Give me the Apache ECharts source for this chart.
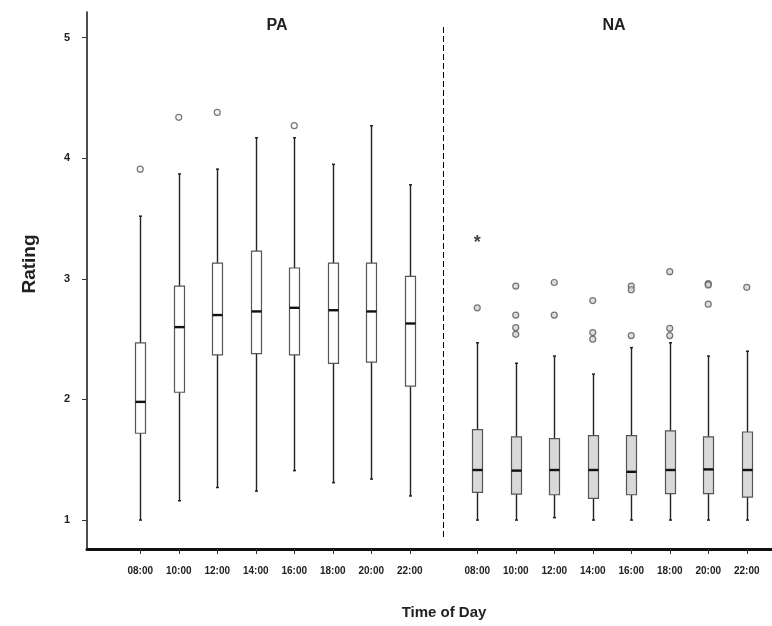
<!DOCTYPE html>
<html>
<head>
<meta charset="utf-8">
<script src="https://cdn.jsdelivr.net/npm/echarts@6/dist/echarts.min.js"></script>
<style>html,body{margin:0;padding:0;background:#fff}#c{width:772px;height:626px}</style>
</head>
<body>
<div id="c"></div>
<script>
// ---- Data ----
const categories = ['08:00','10:00','12:00','14:00','16:00','18:00','20:00','22:00'];
const yTicks = [1, 2, 3, 4, 5];

const paMin    = [1.00, 1.16, 1.27, 1.24, 1.41, 1.31, 1.34, 1.20];
const paQ1     = [1.72, 2.06, 2.37, 2.38, 2.37, 2.30, 2.31, 2.11];
const paMedian = [1.98, 2.60, 2.70, 2.73, 2.76, 2.74, 2.73, 2.63];
const paQ3     = [2.47, 2.94, 3.13, 3.23, 3.09, 3.13, 3.13, 3.02];
const paMax    = [3.52, 3.87, 3.91, 4.17, 4.17, 3.95, 4.27, 3.78];
const paOutliers = [[0, 3.91], [1, 4.34], [2, 4.38], [4, 4.27]];

const naMin    = [1.00, 1.00, 1.02, 1.00, 1.00, 1.00, 1.00, 1.00];
const naQ1     = [1.23, 1.215, 1.21, 1.18, 1.21, 1.22, 1.22, 1.19];
const naMedian = [1.415, 1.41, 1.415, 1.415, 1.40, 1.415, 1.42, 1.415];
const naQ3     = [1.75, 1.69, 1.675, 1.70, 1.70, 1.74, 1.69, 1.73];
const naMax    = [2.47, 2.30, 2.36, 2.21, 2.43, 2.47, 2.36, 2.40];
const naOutliers = [
  [0, 2.76],
  [1, 2.94], [1, 2.70], [1, 2.595], [1, 2.54],
  [2, 2.97], [2, 2.70],
  [3, 2.82], [3, 2.555], [3, 2.50],
  [4, 2.94], [4, 2.91], [4, 2.53],
  [5, 3.06], [5, 2.59], [5, 2.53],
  [6, 2.96], [6, 2.95], [6, 2.79],
  [7, 2.93]
];
const naExtremes = [[0, 3.33]];

// ---- Build ----
function boxData(mn, q1, md, q3, mx) {
  return mn.map((v, i) => [i, mn[i], q1[i], md[i], q3[i], mx[i]]);
}
function makeRender(fill) {
  return function (params, api) {
    const x = api.value(0);
    const pMin = api.coord([x, api.value(1)]);
    const pQ1 = api.coord([x, api.value(2)]);
    const pMed = api.coord([x, api.value(3)]);
    const pQ3 = api.coord([x, api.value(4)]);
    const pMax = api.coord([x, api.value(5)]);
    const cx = Math.round(pMed[0]) + 0.5;
    const hw = 5;
    const line = { stroke: '#222', lineWidth: 1.4 };
    return {
      type: 'group',
      children: [
        { type: 'line', shape: { x1: cx, y1: pMin[1], x2: cx, y2: pQ1[1] }, style: line },
        { type: 'line', shape: { x1: cx, y1: pQ3[1], x2: cx, y2: pMax[1] }, style: line },
        { type: 'line', shape: { x1: cx - 1.5, y1: pMin[1], x2: cx + 1.5, y2: pMin[1] }, style: { stroke: '#222', lineWidth: 1.5 } },
        { type: 'line', shape: { x1: cx - 1.5, y1: pMax[1], x2: cx + 1.5, y2: pMax[1] }, style: { stroke: '#222', lineWidth: 1.5 } },
        { type: 'rect', shape: { x: cx - hw, y: pQ3[1], width: hw * 2, height: pQ1[1] - pQ3[1] },
          style: { fill: fill, stroke: '#555', lineWidth: 1.2 } },
        { type: 'line', shape: { x1: cx - hw, y1: pMed[1], x2: cx + hw, y2: pMed[1] }, style: { stroke: '#111', lineWidth: 2.4 } }
      ]
    };
  };
}

const Y_MIN = 0.76, Y_MAX = 5.213;
const GTOP = 12, GH = 537;

const hiddenY = (gi) => ({
  type: 'value', gridIndex: gi, min: Y_MIN, max: Y_MAX,
  axisLine: { show: false }, axisTick: { show: false }, axisLabel: { show: false }, splitLine: { show: false }
});
const catX = (gi) => ({
  type: 'category', gridIndex: gi, data: categories, boundaryGap: true,
  axisLine: { show: false },
  axisTick: { show: true, alignWithLabel: true, length: 5, lineStyle: { color: '#333', width: 1 } },
  axisLabel: { margin: 17, fontSize: 10, fontWeight: 'bold', color: '#222', fontFamily: 'Liberation Sans, Arial, sans-serif' },
  splitLine: { show: false }
});

const chart = echarts.init(document.getElementById('c'), null, { renderer: 'canvas' });
chart.setOption({
  animation: false,
  backgroundColor: '#fff',
  textStyle: { fontFamily: 'Liberation Sans, Arial, sans-serif' },
  title: [
    { text: 'PA', left: 272, top: 13, textAlign: 'center', textStyle: { fontSize: 16, fontWeight: 'bold', color: '#222' } },
    { text: 'NA', left: 609, top: 13, textAlign: 'center', textStyle: { fontSize: 16, fontWeight: 'bold', color: '#222' } }
  ],
  grid: [
    { left: 87, width: 685, top: GTOP, height: GH },
    { left: 121, width: 308, top: GTOP, height: GH },
    { left: 458, width: 308, top: GTOP, height: GH }
  ],
  xAxis: [
    { type: 'value', gridIndex: 0, min: 0, max: 1,
      axisLine: { show: true, onZero: false, lineStyle: { color: '#111', width: 3 } },
      axisTick: { show: false }, axisLabel: { show: false }, splitLine: { show: false } },
    catX(1), catX(2)
  ],
  yAxis: [
    { type: 'value', gridIndex: 0, min: Y_MIN, max: Y_MAX,
      axisLine: { show: true, lineStyle: { color: '#111', width: 1.5 } },
      axisTick: { show: true, length: 5, customValues: yTicks, lineStyle: { color: '#333' } },
      axisLabel: { show: true, customValues: yTicks, margin: 17, fontSize: 11, fontWeight: 'bold', color: '#222' },
      splitLine: { show: false } },
    hiddenY(1), hiddenY(2)
  ],
  graphic: [
    { type: 'line', shape: { x1: 443.5, y1: 27, x2: 443.5, y2: 537 },
      style: { stroke: '#000', lineWidth: 1, lineDash: [6, 3] } },
    { type: 'text', x: 30, y: 264, rotation: Math.PI / 2,
      style: { text: 'Rating', fontSize: 19, fontWeight: 'bold', fill: '#222', align: 'center', verticalAlign: 'middle', fontFamily: 'Liberation Sans, Arial, sans-serif' } },
    { type: 'text', x: 444, y: 613,
      style: { text: 'Time of Day', fontSize: 15, fontWeight: 'bold', fill: '#222', align: 'center', verticalAlign: 'middle', fontFamily: 'Liberation Sans, Arial, sans-serif' } }
  ],
  series: [
    { type: 'custom', name: 'PA', xAxisIndex: 1, yAxisIndex: 1,
      data: boxData(paMin, paQ1, paMedian, paQ3, paMax), renderItem: makeRender('#ffffff'),
      encode: { x: 0, y: [1, 2, 3, 4, 5] } },
    { type: 'custom', name: 'NA', xAxisIndex: 2, yAxisIndex: 2,
      data: boxData(naMin, naQ1, naMedian, naQ3, naMax), renderItem: makeRender('#d9d9d9'),
      encode: { x: 0, y: [1, 2, 3, 4, 5] } },
    { type: 'scatter', xAxisIndex: 1, yAxisIndex: 1, data: paOutliers, symbol: 'circle', symbolSize: 6,
      itemStyle: { color: '#f4f4f4', borderColor: '#555', borderWidth: 1.2 } },
    { type: 'scatter', xAxisIndex: 2, yAxisIndex: 2, data: naOutliers, symbol: 'circle', symbolSize: 6,
      itemStyle: { color: '#d4d4d4', borderColor: '#555', borderWidth: 1.2 } },
    { type: 'scatter', xAxisIndex: 2, yAxisIndex: 2, data: naExtremes, symbol: 'circle', symbolSize: 1,
      itemStyle: { color: 'rgba(0,0,0,0)' },
      label: { show: true, position: 'inside', formatter: '*', fontSize: 18, fontWeight: 'bold', color: '#111', offset: [0, 4] } }
  ]
});
</script>
</body>
</html>
